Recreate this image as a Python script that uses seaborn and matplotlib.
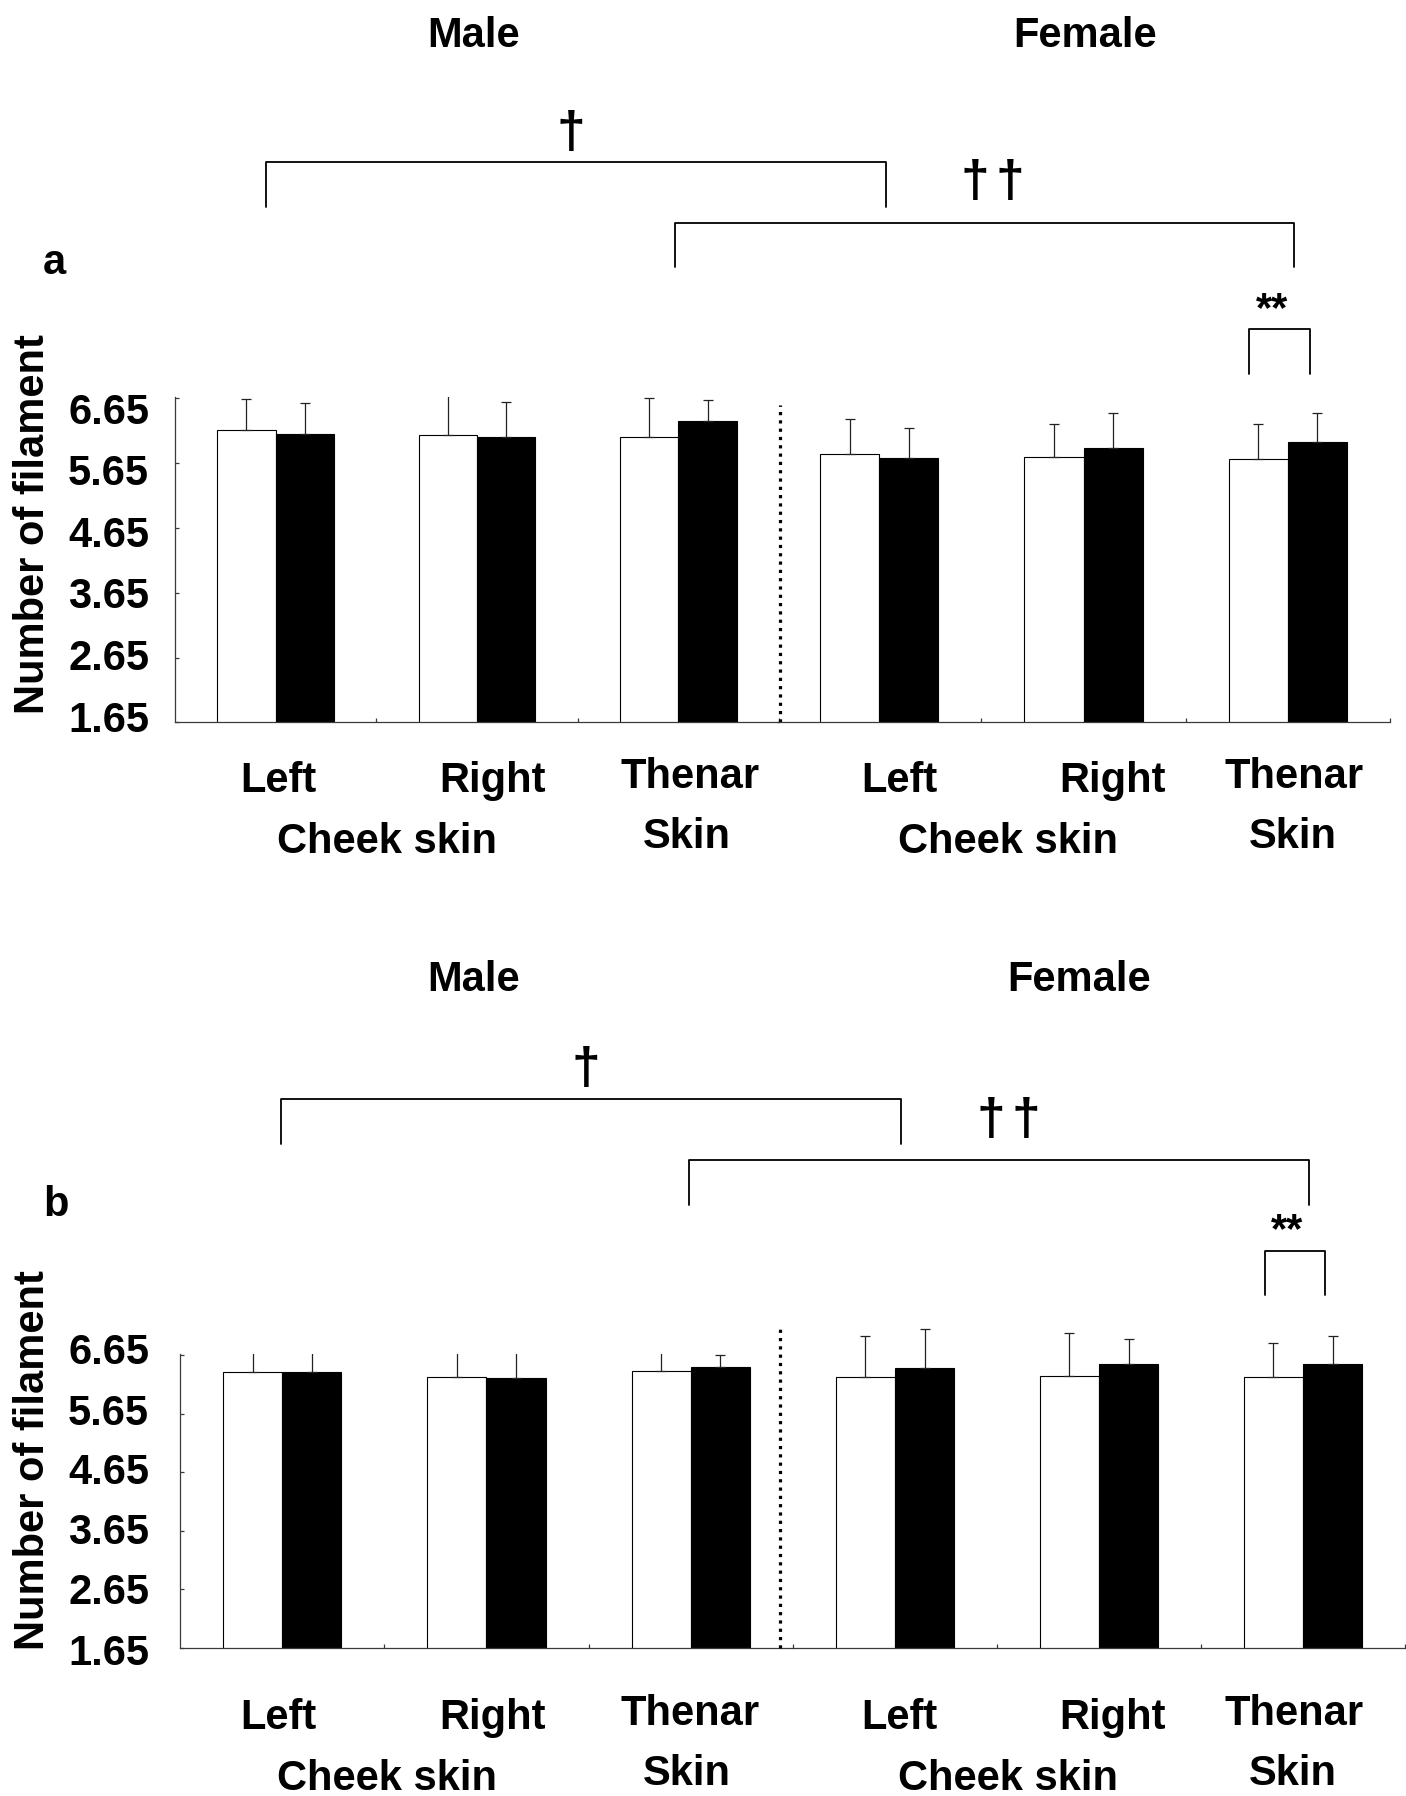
import matplotlib
matplotlib.use("Agg")
import matplotlib.pyplot as plt
import seaborn as sns
import pandas as pd
import numpy as np
from matplotlib.lines import Line2D

# ---------------- data ----------------
sites = ["Left cheek", "Right cheek", "Thenar skin"]
conditions = ["Condition 1", "Condition 2"]          # white, black
y_ticks = [1.65, 2.65, 3.65, 4.65, 5.65, 6.65]
y_tick_labels = ["1.65", "2.65", "3.65", "4.65", "5.65", "6.65"]
site_labels = ["Left", "Right", "Thenar"]
sub_labels = ["Cheek skin", "Skin"]
sex_labels = ["Male", "Female"]
panel_letters = ["a", "b"]
y_label = "Number of filament"

# panel a
a_male_white = [6.16, 6.09, 6.06]
a_male_black = [6.10, 6.05, 6.30]
a_male_white_sd = [0.48, 0.62, 0.60]
a_male_black_sd = [0.47, 0.55, 0.32]
a_female_white = [5.79, 5.74, 5.72]
a_female_black = [5.73, 5.88, 5.98]
a_female_white_sd = [0.54, 0.51, 0.53]
a_female_black_sd = [0.46, 0.55, 0.44]

# panel b
b_male_white = [6.36, 6.28, 6.37]
b_male_black = [6.36, 6.26, 6.45]
b_male_white_sd = [0.40, 0.50, 0.35]
b_male_black_sd = [0.40, 0.50, 0.20]
b_female_white = [6.27, 6.29, 6.27]
b_female_black = [6.42, 6.50, 6.50]
b_female_white_sd = [0.70, 0.74, 0.59]
b_female_black_sd = [0.67, 0.42, 0.48]

# significance marks
sig_dagger = "\u2020"
sig_star = "**"

# ---------------- style ----------------
sns.set_style("ticks")
plt.rcParams["font.family"] = ["Liberation Sans", "DejaVu Sans"]
for key in ("text.color", "axes.labelcolor", "xtick.color", "ytick.color"):
    plt.rcParams[key] = "black"

W, H = 1406, 1796
fig = plt.figure(figsize=(W / 100, H / 100), dpi=100)


def fx(x):
    return x / W


def fy(y):
    return 1 - y / H


YMIN, YMAX = 1.65, 6.67
SPINE = "#3a3a3a"


def add_axes_px(x0, x1, ybot, ppu):
    ytop = ybot - (YMAX - YMIN) * ppu
    return fig.add_axes([fx(x0), fy(ybot), (x1 - x0) / W, (ybot - ytop) / H])


def draw_half(ax, white, black, wsd, bsd, clip, show_y, xoff=0, yoffs=None):
    df = pd.DataFrame({
        "site": sites * 2,
        "condition": [conditions[0]] * 3 + [conditions[1]] * 3,
        "value": white + black,
    })
    sns.barplot(data=df, x="site", y="value", hue="condition", order=sites,
                hue_order=conditions, palette=["white", "black"],
                edgecolor="black", linewidth=0.8, width=0.58, gap=0,
                errorbar=None, legend=False, ax=ax)
    for cont, sd in zip(ax.containers, [wsd, bsd]):
        xs = [p.get_x() + p.get_width() / 2 for p in cont]
        hs = [p.get_height() for p in cont]
        eb = ax.errorbar(xs, hs, yerr=[np.zeros(len(sd)), sd], fmt="none",
                         ecolor="#222222", elinewidth=0.9, capsize=3.5,
                         capthick=0.9, zorder=3)
        for art in eb.get_children():
            art.set_clip_on(clip)
    ax.set_xlim(-0.5, 2.5)
    ax.set_ylim(YMIN, YMAX)
    ax.set_xlabel("")
    ax.set_ylabel("")
    ax.set_xticks([0.5, 1.5, 2.5])
    ax.set_xticklabels([])
    ax.spines["top"].set_visible(False)
    ax.spines["right"].set_visible(False)
    for s in ax.spines.values():
        s.set_color(SPINE)
        s.set_linewidth(0.9)
    ax.tick_params(axis="x", direction="in", length=3, width=0.9, color=SPINE,
                   bottom=True)
    if show_y:
        ax.set_yticks(y_ticks)
        ax.set_yticklabels([])
        ax.tick_params(axis="y", direction="in", length=3, width=0.9,
                       color=SPINE, left=True)
        for v, lab, off in zip(y_ticks, y_tick_labels, yoffs):
            ax.annotate(lab, xy=(0, v), xycoords=("axes fraction", "data"),
                        xytext=(-xoff, -off), textcoords="offset pixels",
                        ha="right", va="baseline", fontsize=30,
                        fontweight="bold", annotation_clip=False)
    else:
        ax.set_yticks([])
        ax.spines["left"].set_visible(False)
    ax.patch.set_alpha(0)


panels = [
    dict(left=(175, 779), right=(777, 1390), ybot=722.3, ppu=64.8, xoff=26,
         yoffs=[9.3, 12.5, 15.5, 18.9, 22.3, 25.7],
         male=(a_male_white, a_male_black, a_male_white_sd, a_male_black_sd),
         female=(a_female_white, a_female_black, a_female_white_sd, a_female_black_sd),
         div_x=2.505, div_top=6.54, dy=0,
         title_y=47, title_x=(474, 1085), letter=(54, 274), ylab=(33, 524),
         b1=(266, 886, 162, 207), b2=(675, 1294, 223, 267), b3=(1249, 1310, 329, 374),
         d1=(571, 148), d2=(992, 197), st=(1272, 321)),
    dict(left=(180, 793), right=(793, 1405), ybot=1647.5, ppu=58.5, xoff=31,
         yoffs=[17.5, 15, 14, 12.5, 11.5, 9],
         male=(b_male_white, b_male_black, b_male_white_sd, b_male_black_sd),
         female=(b_female_white, b_female_black, b_female_white_sd, b_female_black_sd),
         div_x=2.436, div_top=7.13, dy=937,
         title_y=991, title_x=(474, 1079), letter=(56, 1216), ylab=(33, 1460),
         b1=(281, 901, 1099, 1144), b2=(689, 1309, 1160, 1205), b3=(1265, 1325, 1251, 1295),
         d1=(586, 1084), d2=(1008, 1135), st=(1287, 1242)),
]

label_x = [(278, 492, 690), (899, 1113, 1294)]
sub_x = [(387, 687), (1008, 1293)]
DAGGER_SIZE = 37
DAGGER_GAP = 35

for pi, p in enumerate(panels):
    axl = add_axes_px(p["left"][0], p["left"][1], p["ybot"], p["ppu"])
    axr = add_axes_px(p["right"][0], p["right"][1], p["ybot"], p["ppu"])
    draw_half(axl, *p["male"], clip=True, show_y=True, xoff=p["xoff"],
              yoffs=p["yoffs"])
    draw_half(axr, *p["female"], clip=False, show_y=False)
    axl.vlines(p["div_x"], YMIN, p["div_top"], colors="black", linewidth=2.3,
               linestyles=(0, (1, 1.6)), clip_on=False, zorder=5)

    # category labels
    dy = p["dy"]
    for si in range(2):
        for li, lab in enumerate(site_labels):
            base = 788 if lab == "Thenar" else 792
            fig.text(fx(label_x[si][li]), fy(base + dy), lab, ha="center",
                     va="baseline", fontsize=30, fontweight="bold")
        fig.text(fx(sub_x[si][0]), fy(853 + dy), sub_labels[0], ha="center",
                 va="baseline", fontsize=30, fontweight="bold")
        fig.text(fx(sub_x[si][1]), fy(848 + dy), sub_labels[1], ha="center",
                 va="baseline", fontsize=30, fontweight="bold")

    # titles
    for si in range(2):
        fig.text(fx(p["title_x"][si]), fy(p["title_y"]), sex_labels[si],
                 ha="center", va="baseline", fontsize=30, fontweight="bold")
    fig.text(fx(p["letter"][0]), fy(p["letter"][1]), panel_letters[pi],
             ha="center", va="baseline", fontsize=30, fontweight="bold")
    fig.text(fx(p["ylab"][0]), fy(p["ylab"][1]), y_label, rotation=90,
             ha="center", va="center", fontsize=30, fontweight="bold")

    # brackets
    for key in ("b1", "b2", "b3"):
        x0, x1, top, bot = p[key]
        fig.add_artist(Line2D([fx(x0), fx(x0), fx(x1), fx(x1)],
                              [fy(bot), fy(top), fy(top), fy(bot)],
                              color="black", linewidth=1.3,
                              transform=fig.transFigure))
    fig.text(fx(p["d1"][0]), fy(p["d1"][1]), sig_dagger, ha="center",
             va="baseline", fontsize=DAGGER_SIZE, fontweight="bold")
    for sgn in (-0.5, 0.5):
        fig.text(fx(p["d2"][0] + sgn * DAGGER_GAP), fy(p["d2"][1]), sig_dagger,
                 ha="center", va="baseline", fontsize=DAGGER_SIZE,
                 fontweight="bold")
    fig.text(fx(p["st"][0]), fy(p["st"][1]), sig_star, ha="center",
             va="baseline", fontsize=30, fontweight="bold")

fig.savefig("out.png", dpi=100, facecolor="white")
